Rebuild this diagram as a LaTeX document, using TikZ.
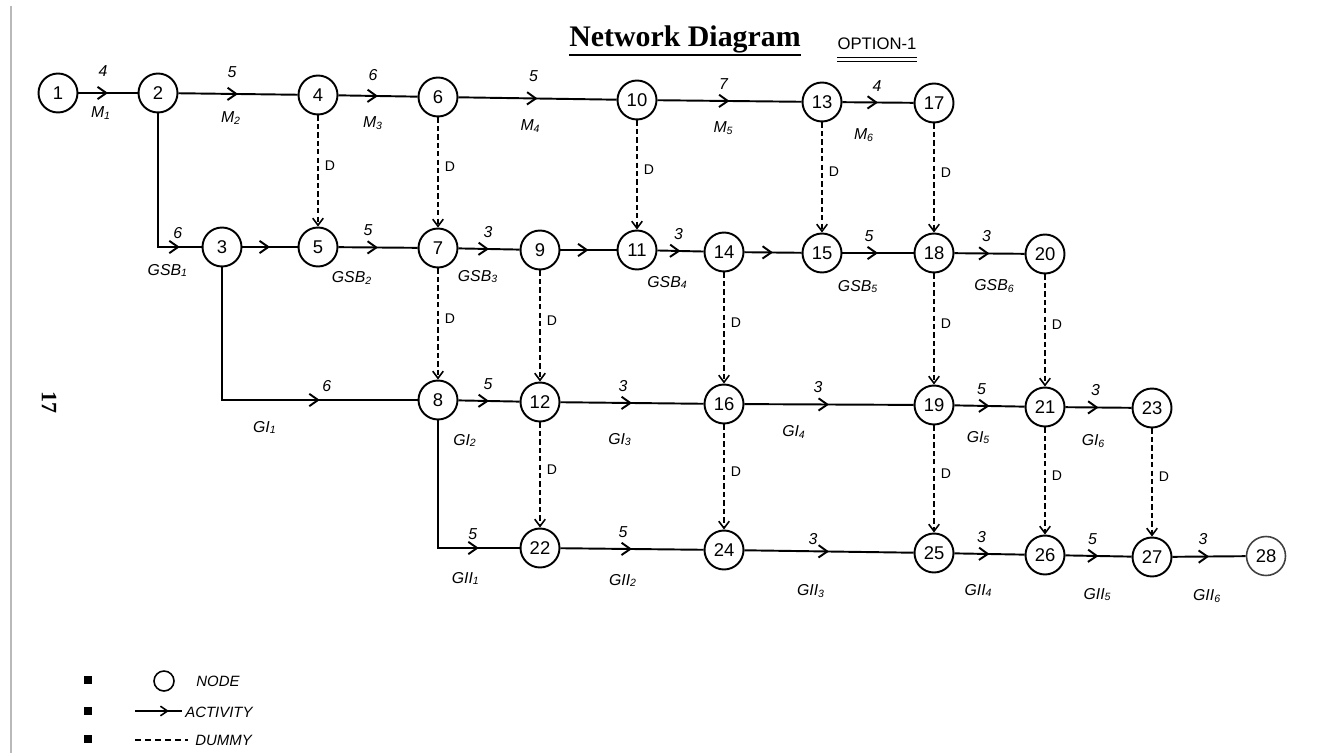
\documentclass[tikz,border=0pt]{standalone}
\usepackage{fontspec}
\setmainfont{Liberation Serif}
\setsansfont{Liberation Sans}
\usetikzlibrary{arrows.meta,decorations.markings}

\tikzset{
  nd/.style={circle, draw, line width=1.1pt, minimum size=0.78cm, inner sep=0pt,
    font=\sffamily\fontsize{10.5}{12}\selectfont},
  wire/.style={line width=1.1pt},
  act/.style={wire,
    decoration={markings, mark=at position 0.5 with
      {\arrow{Straight Barb[length=5pt,width=7pt,line width=1.1pt]}}},
    postaction={decorate}},
  legact/.style={line width=0.9pt,
    decoration={markings, mark=at position 0.72 with
      {\arrow{Straight Barb[length=4pt,width=5.5pt,line width=0.9pt]}}},
    postaction={decorate}},
  dum/.style={line width=0.9pt, dash pattern=on 3pt off 1.8pt,
    -{Straight Barb[length=4pt,width=6pt,line width=0.9pt]}},
  wt/.style={above=0.21cm, inner sep=0pt, font=\sffamily\itshape\fontsize{9}{10}\selectfont},
  lab/.style={below=0.4cm, inner sep=0pt, font=\sffamily\itshape\fontsize{9}{10}\selectfont},
  dl/.style={pos=0.45, right=0.12cm, inner sep=0pt, font=\sffamily\fontsize{8}{9}\selectfont},
  leg/.style={inner sep=0pt, font=\sffamily\itshape\fontsize{8.5}{10}\selectfont},
  sq/.style={fill, minimum size=0.16cm, inner sep=0pt},
}

% activity arrow: from, to, duration, name, duration-label shift, name-label shift
\newcommand\actline[6]{\draw[act] (#1) -- node[wt,#5]{#3} node[lab,#6]{#4} (#2);}
% dummy activity
\newcommand\dummyline[2]{\draw[dum] (#1) -- node[dl]{D} (#2);}

\begin{document}
\begin{tikzpicture}[x=0.02cm,y=-0.02cm]
\useasboundingbox (0,0) rectangle (1338,753);

% page edge and page number
\draw[gray!55, line width=0.6pt] (11,6) -- (11,753);
\node[font=\bfseries\fontsize{12.5}{14}\selectfont, rotate=-90, inner sep=0pt] (pg) at (49,402) {17};

% heading
\node[font=\bfseries\fontsize{17}{20}\selectfont, inner sep=0pt, anchor=base] (title) at (685,47) {Network Diagram};
\draw[line width=1.2pt] ([yshift=-0.02cm]title.south west) -- ([yshift=-0.02cm]title.south east);
\node[font=\sffamily\fontsize{9.5}{11}\selectfont, inner sep=0pt] (opt) at (877,44) {OPTION-1};
\draw[line width=0.8pt] ([yshift=-0.14cm]opt.south west) -- ([yshift=-0.14cm]opt.south east);
\draw[line width=0.8pt] ([yshift=-0.22cm]opt.south west) -- ([yshift=-0.22cm]opt.south east);

% events, row by row
\node[nd] (n1)  at (58,93)  {1};
\node[nd] (n2)  at (158,93) {2};
\node[nd] (n4)  at (318,95) {4};
\node[nd] (n6)  at (438,97) {6};
\node[nd] (n10) at (637,100) {10};
\node[nd] (n13) at (822,102) {13};
\node[nd] (n17) at (934,103) {17};

\node[nd] (n3)  at (222,247) {3};
\node[nd] (n5)  at (318,247) {5};
\node[nd] (n7)  at (438,248) {7};
\node[nd] (n9)  at (540,250) {9};
\node[nd] (n11) at (637,250) {11};
\node[nd] (n14) at (724,252) {14};
\node[nd] (n15) at (822,253) {15};
\node[nd] (n18) at (934,253) {18};
\node[nd] (n20) at (1045,254) {20};

\node[nd] (n8)  at (438,400) {8};
\node[nd] (n12) at (540,402) {12};
\node[nd] (n16) at (724,404) {16};
\node[nd] (n19) at (934,405) {19};
\node[nd] (n21) at (1045,407) {21};
\node[nd] (n23) at (1152,408) {23};

\node[nd] (n22) at (540,548) {22};
\node[nd] (n24) at (724,550) {24};
\node[nd] (n25) at (934,553) {25};
\node[nd] (n26) at (1045,555) {26};
\node[nd] (n27) at (1152,557) {27};
\node[nd, draw=black!75, line width=0.9pt] (n28) at (1266,556) {28};

% corners of the branching activities
\coordinate (c23)  at (158,247);
\coordinate (c38)  at (222,400);
\coordinate (c822) at (438,548);

% M activities
\actline{n1}{n2}{4}{M\textsubscript{1}}{xshift=-0.1cm,yshift=0.1cm}{xshift=-0.14cm,yshift=0.14cm}
\actline{n2}{n4}{5}{M\textsubscript{2}}{xshift=-0.12cm,yshift=0.1cm}{xshift=-0.14cm,yshift=0.06cm}
\actline{n4}{n6}{6}{M\textsubscript{3}}{xshift=-0.1cm,yshift=0.08cm}{xshift=-0.1cm}
\actline{n6}{n10}{5}{M\textsubscript{4}}{xshift=-0.08cm,yshift=0.1cm}{xshift=-0.14cm}
\actline{n10}{n13}{7}{M\textsubscript{5}}{xshift=-0.12cm}{xshift=-0.12cm}
\actline{n13}{n17}{4}{M\textsubscript{6}}{xshift=-0.02cm}{xshift=-0.28cm,yshift=-0.1cm}

% GSB activities
\draw[wire] (n2) |- (n3);
\actline{c23}{n3}{6}{GSB\textsubscript{1}}{xshift=-0.04cm,yshift=-0.06cm}{xshift=-0.24cm,yshift=0.08cm}
\draw[act] (n3) -- (n5);
\actline{n5}{n7}{5}{GSB\textsubscript{2}}{xshift=-0.2cm}{xshift=-0.52cm,yshift=-0.06cm}
\actline{n7}{n9}{3}{GSB\textsubscript{3}}{xshift=-0.02cm}{xshift=-0.22cm}
\draw[act] (n9) -- (n11);
\actline{n11}{n14}{3}{GSB\textsubscript{4}}{xshift=-0.04cm}{xshift=-0.26cm,yshift=-0.08cm}
\draw[act] (n14) -- (n15);
\actline{n15}{n18}{5}{GSB\textsubscript{5}}{xshift=-0.18cm}{xshift=-0.4cm,yshift=-0.12cm}
\actline{n18}{n20}{3}{GSB\textsubscript{6}}{xshift=-0.06cm}{xshift=0.1cm,yshift=-0.1cm}

% GI activities
\draw[wire] (n3) |- (n8);
\actline{c38}{n8}{6}{GI\textsubscript{1}}{xshift=0.14cm,yshift=-0.06cm}{xshift=-1.1cm}
\actline{n8}{n12}{5}{GI\textsubscript{2}}{xshift=-0.02cm}{xshift=-0.48cm,yshift=-0.24cm}
\actline{n12}{n16}{3}{GI\textsubscript{3}}{xshift=-0.18cm}{xshift=-0.24cm,yshift=-0.18cm}
\actline{n16}{n19}{3}{GI\textsubscript{4}}{xshift=-0.22cm}{xshift=-0.7cm}
\actline{n19}{n21}{5}{GI\textsubscript{5}}{xshift=-0.16cm}{xshift=-0.22cm,yshift=-0.08cm}
\actline{n21}{n23}{3}{GI\textsubscript{6}}{xshift=-0.06cm}{xshift=-0.1cm,yshift=-0.12cm}

% GII activities
\draw[wire] (n8) |- (n22);
\actline{c822}{n22}{5}{GII\textsubscript{1}}{xshift=-0.12cm,yshift=-0.06cm}{xshift=-0.26cm,yshift=-0.06cm}
\actline{n22}{n24}{5}{GII\textsubscript{2}}{xshift=-0.18cm}{xshift=-0.18cm,yshift=-0.08cm}
\actline{n24}{n25}{3}{GII\textsubscript{3}}{xshift=-0.32cm,yshift=-0.1cm}{xshift=-0.36cm,yshift=-0.24cm}
\actline{n25}{n26}{3}{GII\textsubscript{4}}{xshift=-0.16cm}{xshift=-0.22cm,yshift=-0.18cm}
\actline{n26}{n27}{5}{GII\textsubscript{5}}{xshift=-0.12cm}{xshift=-0.02cm,yshift=-0.22cm}
\actline{n27}{n28}{3}{GII\textsubscript{6}}{xshift=-0.12cm}{xshift=-0.04cm,yshift=-0.24cm}

% dummy activities
\dummyline{n4}{n5}
\dummyline{n6}{n7}
\dummyline{n10}{n11}
\dummyline{n13}{n15}
\dummyline{n17}{n18}
\dummyline{n7}{n8}
\dummyline{n9}{n12}
\dummyline{n14}{n16}
\dummyline{n18}{n19}
\dummyline{n20}{n21}
\dummyline{n12}{n22}
\dummyline{n16}{n24}
\dummyline{n19}{n25}
\dummyline{n21}{n26}
\dummyline{n23}{n27}

% legend
\node[sq] (k1) at (88,680) {};
\node[sq] (k2) at (88,711) {};
\node[sq] (k3) at (88,739) {};
\node[nd, minimum size=0.4cm, line width=0.9pt] (lgc) at (164,681) {};
\node[leg, anchor=west] (lgt1) at (196,681) {NODE};
\coordinate (la) at (135,711);
\coordinate (lb) at (182,711);
\draw[legact] (la) -- (lb);
\node[leg, anchor=west] (lgt2) at (185,712) {ACTIVITY};
\coordinate (lc) at (135,740);
\coordinate (ld) at (188,740);
\draw[line width=0.8pt, dash pattern=on 3.5pt off 2.2pt] (lc) -- (ld);
\node[leg, anchor=west] (lgt3) at (195,740) {DUMMY};
\end{tikzpicture}
\end{document}
